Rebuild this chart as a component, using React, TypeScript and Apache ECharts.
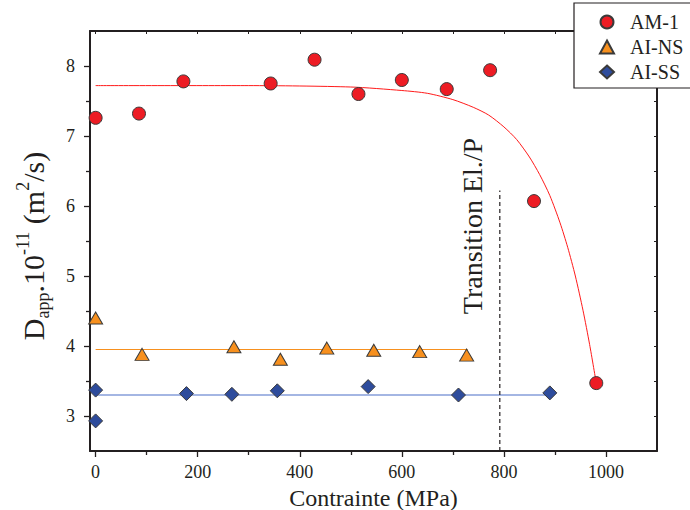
import React, { useEffect, useRef } from "react";
import * as echarts from "echarts";

// ---- data ----
const amStress = [0, 85, 172, 343, 429, 515, 600, 688, 773, 859, 981];
const amD = [7.26, 7.32, 7.78, 7.75, 8.09, 7.6, 7.8, 7.67, 7.94, 6.07, 3.47];

const nsStress = [0, 91, 271, 362, 453, 545, 635, 727];
const nsD = [4.4, 3.88, 3.99, 3.81, 3.97, 3.94, 3.92, 3.87];

const ssStress = [0, 0, 178, 267, 356, 534, 711, 890];
const ssD = [3.37, 2.93, 3.32, 3.31, 3.36, 3.42, 3.3, 3.33];

// fitted curves
const amFitStress = [0, 300, 500, 600, 650, 700, 740, 770, 800, 825, 850, 870, 890, 910, 925, 940, 955, 968, 981];
const amFitD = [7.72, 7.72, 7.7, 7.65, 7.61, 7.52, 7.41, 7.3, 7.13, 6.95, 6.7, 6.45, 6.15, 5.76, 5.41, 5.0, 4.51, 4.02, 3.47];
const nsFitStress = [0, 729];
const nsFitD = [3.95, 3.95];
const ssFitStress = [0, 890];
const ssFitD = [3.3, 3.3];

// elastic/plastic transition marker
const transitionStress = [792, 792];
const transitionD = [2.5, 6.22];

// tick values
const xTicks = [0, 200, 400, 600, 800, 1000];
const xMinorTicks = [100, 300, 500, 700, 900];
const xAllTicks = [0, 100, 200, 300, 400, 500, 600, 700, 800, 900, 1000];
const yTicks = [3, 4, 5, 6, 7, 8];
const yMinorTicks = [3.5, 4.5, 5.5, 6.5, 7.5];
const yAllTicks = [3, 3.5, 4, 4.5, 5, 5.5, 6, 6.5, 7, 7.5, 8];

const seriesNames = ["AM-1", "AI-NS", "AI-SS"];

const FONT = "Liberation Serif";
const TXT = "#231f20";
const X_MIN = -11;
const X_MAX = 1100;
const Y_MIN = 2.5;
const Y_MAX = 8.5;

const zip = (xs: number[], ys: number[]) => xs.map((x, i) => [x, ys[i]]);
const plain = (v: number) => String(v);

export default function App() {
  const ref = useRef<HTMLDivElement>(null);

  useEffect(() => {
    if (!ref.current) return;
    const chart = echarts.init(ref.current, undefined, { renderer: "svg" });

    const baseX = {
      type: "value" as const,
      min: X_MIN,
      max: X_MAX,
      splitLine: { show: false },
      axisLine: { onZero: false, lineStyle: { color: TXT, width: 2 } },
    };
    const baseY = {
      type: "value" as const,
      min: Y_MIN,
      max: Y_MAX,
      splitLine: { show: false },
      axisLine: { onZero: false, lineStyle: { color: TXT, width: 2 } },
    };

    const option: any = {
      animation: false,
      backgroundColor: "#fff",
      textStyle: { fontFamily: FONT, color: TXT },
      grid: { left: 90, right: 33, top: 31, bottom: 59, containLabel: false, outerBoundsMode: "none" },
      xAxis: [
        {
          ...baseX,
          position: "bottom",
          name: "Contrainte (MPa)",
          nameLocation: "middle",
          nameGap: 28,
          nameTextStyle: { fontFamily: FONT, fontSize: 24, lineHeight: 24, color: TXT },
          axisTick: { show: true, inside: false, length: 6, customValues: xTicks, lineStyle: { color: TXT, width: 1.3 } },
          axisLabel: { show: true, customValues: xTicks, formatter: plain, margin: 12, fontFamily: FONT, fontSize: 18, color: TXT },
        },
        {
          ...baseX,
          position: "bottom",
          axisLine: { show: false, onZero: false },
          axisTick: { show: true, inside: false, length: 4, customValues: xMinorTicks, lineStyle: { color: TXT, width: 1.3 } },
          axisLabel: { show: false },
        },
        {
          ...baseX,
          position: "top",
          axisTick: { show: true, inside: true, length: 3, customValues: xAllTicks, lineStyle: { color: TXT, width: 1 } },
          axisLabel: { show: false },
        },
      ],
      yAxis: [
        {
          ...baseY,
          position: "left",
          axisTick: { show: true, inside: false, length: 6, customValues: yTicks, lineStyle: { color: TXT, width: 1.3 } },
          axisLabel: { show: true, customValues: yTicks, formatter: plain, margin: 15, fontFamily: FONT, fontSize: 18, color: TXT },
        },
        {
          ...baseY,
          position: "left",
          axisLine: { show: false, onZero: false },
          axisTick: { show: true, inside: false, length: 4, customValues: yMinorTicks, lineStyle: { color: TXT, width: 1.3 } },
          axisLabel: { show: false },
        },
        {
          ...baseY,
          position: "right",
          axisTick: { show: true, inside: true, length: 3, customValues: yAllTicks, lineStyle: { color: TXT, width: 1 } },
          axisLabel: { show: false },
        },
      ],
      legend: {
        data: seriesNames,
        orient: "vertical",
        left: 574,
        top: 3,
        padding: [9, 40, 6, 25],
        itemWidth: 14,
        itemHeight: 13,
        itemGap: 5,
        backgroundColor: "#fff",
        borderColor: TXT,
        borderWidth: 1.2,
        borderRadius: 0,
        formatter: (name: string) => `{p| }{t|${name}}`,
        textStyle: {
          fontFamily: FONT,
          fontSize: 20,
          color: TXT,
          rich: {
            p: { width: 11, fontSize: 20, fontFamily: FONT },
            t: { fontSize: 20, fontFamily: FONT, color: TXT },
          },
        },
      },
      graphic: [
        {
          type: "text",
          x: 33,
          y: 246,
          rotation: Math.PI / 2,
          style: {
            text: "{m|D}{sub|app}{m|.10}{sup|-11}{m| (m}{sup|2}{m|/s)}",
            align: "center",
            verticalAlign: "middle",
            rich: {
              m: { fontFamily: FONT, fontSize: 30, lineHeight: 38, fill: TXT },
              sub: { fontFamily: FONT, fontSize: 18, lineHeight: 18, verticalAlign: "bottom", fill: TXT },
              sup: { fontFamily: FONT, fontSize: 18, lineHeight: 18, verticalAlign: "top", fill: TXT },
            },
          },
        },
        {
          type: "text",
          x: 472,
          y: 226,
          rotation: Math.PI / 2,
          style: {
            text: "Transition El./P",
            align: "center",
            verticalAlign: "middle",
            fontFamily: FONT,
            fontSize: 28,
            fill: TXT,
          },
        },
      ],
      series: [
        {
          name: "AM-1 fit",
          type: "line",
          data: zip(amFitStress, amFitD),
          symbol: "none",
          smooth: 0.25,
          silent: true,
          lineStyle: { color: "#ff1a1a", width: 1 },
          z: 2,
        },
        {
          name: "AI-NS fit",
          type: "line",
          data: zip(nsFitStress, nsFitD),
          symbol: "none",
          silent: true,
          lineStyle: { color: "#f7901e", width: 1.2 },
          z: 2,
        },
        {
          name: "AI-SS fit",
          type: "line",
          data: zip(ssFitStress, ssFitD),
          symbol: "none",
          silent: true,
          lineStyle: { color: "#4a6fc8", width: 1.2 },
          z: 2,
        },
        {
          name: "transition",
          type: "line",
          data: zip(transitionStress, transitionD),
          symbol: "none",
          silent: true,
          lineStyle: { color: TXT, width: 1.2, type: [4, 3] },
          z: 2,
        },
        {
          name: "AM-1",
          type: "scatter",
          data: zip(amStress, amD),
          symbol: "circle",
          symbolSize: 13,
          itemStyle: { color: "#ed1c24", borderColor: "#3a3a3a", borderWidth: 1, opacity: 1 },
          z: 4,
        },
        {
          name: "AI-NS",
          type: "scatter",
          data: zip(nsStress, nsD),
          symbol: "triangle",
          symbolSize: [14, 12],
          itemStyle: { color: "#f7901e", borderColor: "#3a3a3a", borderWidth: 1, opacity: 1 },
          z: 4,
        },
        {
          name: "AI-SS",
          type: "scatter",
          data: zip(ssStress, ssD),
          symbol: "diamond",
          symbolSize: [14, 14],
          itemStyle: { color: "#2e4c9c", borderColor: "#3a3a3a", borderWidth: 1, opacity: 1 },
          z: 4,
        },
      ],
    };

    chart.setOption(option);
    return () => chart.dispose();
  }, []);

  return (
    <div
      ref={ref}
      style={{ position: "fixed", left: 0, top: 0, width: 690, height: 510, background: "#fff" }}
    />
  );
}
